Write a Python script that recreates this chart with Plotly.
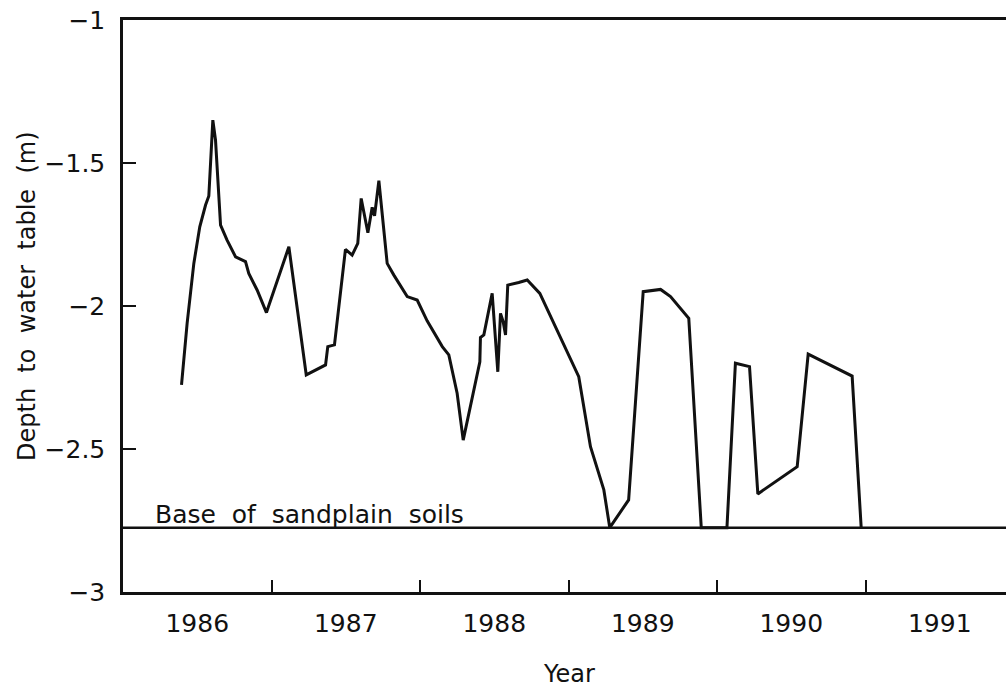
import plotly.graph_objects as go

# ---- data ----
years = [
    1986.394, 1986.410, 1986.432, 1986.477, 1986.517, 1986.556, 1986.578, 1986.605,
    1986.623, 1986.657, 1986.700, 1986.758, 1986.825, 1986.847, 1986.903, 1986.966,
    1987.117, 1987.234, 1987.364, 1987.379, 1987.424, 1987.498, 1987.543, 1987.581,
    1987.604, 1987.649, 1987.678, 1987.694, 1987.723, 1987.779, 1987.824, 1987.914,
    1987.981, 1988.048, 1988.150, 1988.194, 1988.250, 1988.291, 1988.403, 1988.407,
    1988.430, 1988.486, 1988.524, 1988.542, 1988.560, 1988.576, 1988.591, 1988.665,
    1988.722, 1988.807, 1988.901, 1989.069, 1989.148, 1989.238, 1989.278, 1989.405,
    1989.503, 1989.620, 1989.687, 1989.810, 1989.894, 1990.067, 1990.124, 1990.219,
    1990.275, 1990.540, 1990.614, 1990.910, 1990.971,
]
depth = [
    -2.276, -2.177, -2.060, -1.851, -1.723, -1.647, -1.615, -1.350,
    -1.420, -1.717, -1.769, -1.828, -1.845, -1.886, -1.944, -2.023,
    -1.793, -2.241, -2.206, -2.142, -2.136, -1.802, -1.822, -1.781,
    -1.624, -1.744, -1.655, -1.685, -1.562, -1.851, -1.892, -1.967,
    -1.979, -2.052, -2.142, -2.171, -2.305, -2.469, -2.195, -2.110,
    -2.101, -1.956, -2.230, -2.026, -2.055, -2.101, -1.927, -1.918,
    -1.909, -1.956, -2.061, -2.247, -2.492, -2.643, -2.775, -2.678,
    -1.950, -1.942, -1.967, -2.043, -2.775, -2.775, -2.200, -2.212,
    -2.657, -2.562, -2.168, -2.245, -2.775,
]
base_depth = -2.775
base_label = "Base\u00a0\u00a0of\u00a0\u00a0sandplain\u00a0\u00a0soils"

year_label_pos = [1986.5, 1987.5, 1988.5, 1989.5, 1990.5, 1991.5]
year_labels = ["1986", "1987", "1988", "1989", "1990", "1991"]
year_bounds = [1987, 1988, 1989, 1990, 1991]

y_ticks = [-1, -1.5, -2, -2.5, -3]
y_tick_text = ["\u22121", "\u22121.5", "\u22122", "\u22122.5", "\u22123"]

FONT = "DejaVu Sans"

W, H = 1006, 689
ML, MT, MB = 123, 20, 97
plot_w = W - ML
plot_h = H - MT - MB
x_range = [1986, 1986 + plot_w / 148.5]
y_range = [-3, -1]

fig = go.Figure()
fig.add_trace(go.Scatter(
    x=years, y=depth, mode="lines",
    line=dict(color="#111111", width=3),
    showlegend=False, hoverinfo="skip",
))

fig.add_shape(type="line", xref="paper", x0=0, x1=1, yref="y",
              y0=base_depth, y1=base_depth,
              line=dict(color="#111111", width=2.5))

fig.add_annotation(text=base_label, xref="x", yref="y", x=1986.2, y=base_depth,
                   xanchor="left", yanchor="bottom", showarrow=False, yshift=-3,
                   font=dict(family=FONT, size=25, color="#111111"))

fig.add_annotation(text="Depth\u00a0\u00a0to\u00a0\u00a0water\u00a0\u00a0table\u00a0\u00a0(m)",
                   xref="paper", yref="paper", x=-96 / plot_w,
                   y=(MT + plot_h - 296) / plot_h,
                   xanchor="center", yanchor="middle", textangle=-90, showarrow=False,
                   font=dict(family=FONT, size=24, color="#111111"))

fig.add_annotation(text="Year", xref="paper", yref="paper",
                   x=(569 - ML) / plot_w, y=(MT + plot_h - 674) / plot_h,
                   xanchor="center", yanchor="middle", showarrow=False,
                   font=dict(family=FONT, size=24, color="#111111"))

fig.update_layout(
    width=W, height=H,
    margin=dict(l=ML, r=0, t=MT, b=MB, pad=0),
    paper_bgcolor="white", plot_bgcolor="white",
    font=dict(family=FONT, size=25, color="#111111"),
    xaxis=dict(
        range=x_range, showgrid=False, zeroline=False,
        showline=True, mirror=True, linecolor="#111111", linewidth=2.5,
        tickmode="array", tickvals=year_label_pos, ticktext=year_labels,
        ticks="", ticklabelstandoff=7, ticklabeloverflow="allow",
        minor=dict(tickmode="array", tickvals=year_bounds, ticks="inside",
                   ticklen=12, tickwidth=2, tickcolor="#111111", showgrid=False),
    ),
    yaxis=dict(
        range=y_range, showgrid=False, zeroline=False,
        showline=True, linecolor="#111111", linewidth=2.5,
        tickmode="array", tickvals=y_ticks, ticktext=y_tick_text,
        ticks="inside", ticklen=13, tickwidth=2, tickcolor="#111111",
        ticklabelstandoff=10, ticklabeloverflow="allow",
    ),
)

fig.write_html(
    "out.html",
    config={"displayModeBar": False},
    post_script="document.body.style.margin='0';"
                "document.documentElement.style.overflow='hidden';",
)
